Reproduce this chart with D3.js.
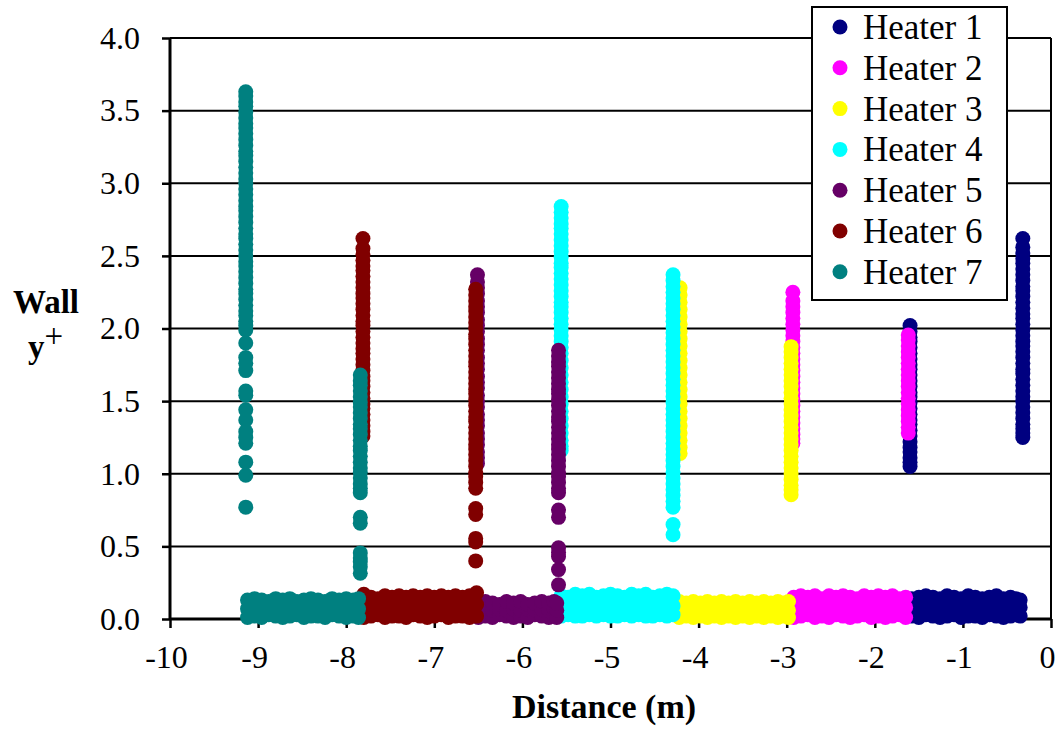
<!DOCTYPE html>
<html>
<head>
<meta charset="utf-8">
<script src="https://cdn.jsdelivr.net/npm/d3@7"></script>
<style>
  html, body { margin: 0; padding: 0; background: #fff; }
  svg { display: block; }
  text { font-family: "Liberation Serif", "Times New Roman", serif; fill: #000; }
</style>
</head>
<body>
<svg id="chart" width="1062" height="734"></svg>
<script>
// ---------------- DATA ----------------
const heaterNames = ["Heater 1", "Heater 2", "Heater 3", "Heater 4", "Heater 5", "Heater 6", "Heater 7"];
const xTicks = [-10, -9, -8, -7, -6, -5, -4, -3, -2, -1, 0];
const yTicks = [0, 0.5, 1.0, 1.5, 2.0, 2.5, 3.0, 3.5, 4.0];

// Heater 1
const h1LeftX = -1.60;
const h1LeftY = [2.02, 1.98, 1.94, 1.91, 1.87, 1.83, 1.79, 1.75, 1.72, 1.68, 1.64, 1.60, 1.56, 1.53, 1.49, 1.45, 1.41, 1.37, 1.34, 1.30, 1.26, 1.22, 1.18, 1.15, 1.11, 1.08, 1.05];
const h1RightX = -0.32;
const h1RightY = [2.62, 2.56, 2.52, 2.48, 2.45, 2.41, 2.37, 2.33, 2.29, 2.26, 2.22, 2.18, 2.14, 2.10, 2.07, 2.03, 1.99, 1.95, 1.91, 1.88, 1.84, 1.80, 1.76, 1.72, 1.69, 1.65, 1.61, 1.57, 1.53, 1.50, 1.46, 1.42, 1.38, 1.34, 1.31, 1.28, 1.25];
const h1BandX = [-1.58, -1.50, -1.42, -1.34, -1.26, -1.18, -1.10, -1.02, -0.94, -0.86, -0.78, -0.70, -0.62, -0.54, -0.46, -0.40, -0.35];
const h1BandLo = [0.02, 0.01, 0.03, 0.02, 0.01, 0.02, 0.03, 0.01, 0.02, 0.02, 0.01, 0.03, 0.02, 0.01, 0.02, 0.03, 0.02];
const h1BandMid = [0.08, 0.09, 0.07, 0.08, 0.09, 0.08, 0.07, 0.09, 0.08, 0.08, 0.09, 0.07, 0.08, 0.09, 0.08, 0.07, 0.08];
const h1BandHi = [0.14, 0.15, 0.16, 0.15, 0.14, 0.16, 0.15, 0.14, 0.16, 0.15, 0.14, 0.15, 0.16, 0.14, 0.15, 0.14, 0.13];

// Heater 2
const h2LeftX = -2.93;
const h2LeftY = [2.25, 2.19, 2.15, 2.11, 2.07, 2.03, 1.99, 1.95, 1.91, 1.87, 1.83, 1.79, 1.75, 1.71, 1.67, 1.63, 1.59, 1.55, 1.51, 1.47, 1.43, 1.39, 1.35, 1.31, 1.27, 1.24, 1.21];
const h2RightX = -1.62;
const h2RightY = [1.955, 1.92, 1.88, 1.84, 1.80, 1.76, 1.72, 1.68, 1.64, 1.60, 1.56, 1.52, 1.48, 1.44, 1.40, 1.36, 1.32, 1.28];
const h2BandX = [-2.92, -2.84, -2.76, -2.68, -2.60, -2.52, -2.44, -2.36, -2.28, -2.20, -2.12, -2.04, -1.96, -1.88, -1.80, -1.72, -1.65];
const h2BandLo = [0.01, 0.02, 0.03, 0.01, 0.02, 0.01, 0.03, 0.02, 0.01, 0.02, 0.03, 0.01, 0.02, 0.01, 0.02, 0.03, 0.01];
const h2BandMid = [0.08, 0.09, 0.08, 0.08, 0.09, 0.08, 0.07, 0.08, 0.09, 0.08, 0.08, 0.09, 0.08, 0.07, 0.08, 0.09, 0.08];
const h2BandHi = [0.15, 0.16, 0.15, 0.16, 0.14, 0.16, 0.15, 0.16, 0.15, 0.14, 0.16, 0.15, 0.16, 0.15, 0.16, 0.14, 0.15];

// Heater 3
const h3LeftX = -4.21;
const h3LeftY = [2.28, 2.23, 2.18, 2.13, 2.08, 2.03, 1.98, 1.93, 1.88, 1.83, 1.78, 1.73, 1.68, 1.63, 1.58, 1.53, 1.48, 1.43, 1.38, 1.33, 1.28, 1.23, 1.18, 1.14];
const h3RightX = -2.95;
const h3RightY = [1.875, 1.84, 1.80, 1.76, 1.72, 1.68, 1.64, 1.60, 1.56, 1.52, 1.48, 1.44, 1.40, 1.36, 1.32, 1.28, 1.24, 1.20, 1.16, 1.12, 1.08, 1.04, 1.00, 0.96, 0.92, 0.89, 0.855];
const h3BandX = [-4.22, -4.14, -4.06, -3.98, -3.90, -3.82, -3.74, -3.66, -3.58, -3.50, -3.42, -3.34, -3.26, -3.18, -3.10, -3.04, -2.98];
const h3BandLo = [0.01, 0.02, 0.01, 0.02, 0.01, 0.02, 0.01, 0.02, 0.01, 0.02, 0.01, 0.02, 0.01, 0.02, 0.01, 0.02, 0.01];
const h3BandMid = [0.06, 0.07, 0.06, 0.07, 0.06, 0.07, 0.06, 0.07, 0.06, 0.07, 0.06, 0.07, 0.06, 0.07, 0.06, 0.07, 0.06];
const h3BandHi = [0.12, 0.11, 0.12, 0.11, 0.12, 0.11, 0.12, 0.11, 0.12, 0.11, 0.12, 0.11, 0.12, 0.11, 0.12, 0.11, 0.12];

// Heater 4
const h4LeftX = -5.56;
const h4LeftY = [2.84, 2.80, 2.76, 2.72, 2.69, 2.65, 2.61, 2.57, 2.53, 2.49, 2.45, 2.42, 2.38, 2.34, 2.30, 2.26, 2.22, 2.18, 2.15, 2.11, 2.07, 2.03, 1.99, 1.95, 1.91, 1.87, 1.83, 1.78, 1.73, 1.68, 1.63, 1.58, 1.53, 1.48, 1.43, 1.38, 1.33, 1.28, 1.23, 1.19, 1.16];
const h4RightX = -4.29;
const h4RightY = [2.37, 2.33, 2.29, 2.25, 2.21, 2.17, 2.13, 2.09, 2.05, 2.01, 1.97, 1.93, 1.89, 1.85, 1.81, 1.77, 1.73, 1.69, 1.65, 1.61, 1.57, 1.53, 1.49, 1.45, 1.41, 1.37, 1.33, 1.29, 1.25, 1.21, 1.17, 1.13, 1.09, 1.05, 1.01, 0.97, 0.93, 0.89, 0.85, 0.81, 0.77, 0.65, 0.58];
const h4BandX = [-5.56, -5.48, -5.40, -5.32, -5.24, -5.16, -5.08, -5.00, -4.92, -4.84, -4.76, -4.68, -4.60, -4.52, -4.44, -4.36, -4.29];
const h4BandLo = [0.02, 0.03, 0.02, 0.02, 0.03, 0.02, 0.03, 0.02, 0.02, 0.03, 0.02, 0.03, 0.02, 0.02, 0.03, 0.02, 0.03];
const h4BandMid = [0.09, 0.09, 0.10, 0.09, 0.09, 0.10, 0.09, 0.09, 0.10, 0.09, 0.09, 0.10, 0.09, 0.09, 0.10, 0.09, 0.09];
const h4BandHi = [0.16, 0.15, 0.17, 0.16, 0.17, 0.15, 0.16, 0.17, 0.16, 0.15, 0.17, 0.16, 0.17, 0.15, 0.16, 0.17, 0.16];

// Heater 5
const h5LeftX = -6.51;
const h5LeftY = [2.37, 2.32, 2.28, 2.24, 2.19, 2.15, 2.11, 2.06, 2.02, 1.98, 1.93, 1.89, 1.85, 1.80, 1.76, 1.72, 1.67, 1.63, 1.59, 1.54, 1.50, 1.46, 1.41, 1.37, 1.33, 1.28, 1.24, 1.20, 1.15, 1.11, 1.07];
const h5RightX = -5.59;
const h5RightY = [1.85, 1.81, 1.77, 1.74, 1.70, 1.66, 1.62, 1.58, 1.55, 1.51, 1.47, 1.43, 1.39, 1.36, 1.32, 1.28, 1.24, 1.20, 1.17, 1.13, 1.09, 1.05, 1.01, 0.98, 0.94, 0.90, 0.87, 0.75, 0.70, 0.49, 0.46, 0.43, 0.34, 0.235];
const h5BandX = [-6.50, -6.42, -6.34, -6.26, -6.18, -6.10, -6.02, -5.94, -5.86, -5.78, -5.70, -5.64, -5.61];
const h5BandLo = [0.01, 0.02, 0.01, 0.03, 0.02, 0.01, 0.02, 0.01, 0.03, 0.02, 0.01, 0.02, 0.01];
const h5BandMid = [0.06, 0.07, 0.06, 0.07, 0.06, 0.07, 0.06, 0.07, 0.06, 0.07, 0.06, 0.07, 0.06];
const h5BandHi = [0.11, 0.12, 0.11, 0.10, 0.12, 0.11, 0.12, 0.10, 0.11, 0.12, 0.11, 0.12, 0.11];

// Heater 6
const h6LeftX = -7.81;
const h6LeftY = [2.62, 2.55, 2.51, 2.47, 2.43, 2.40, 2.36, 2.32, 2.28, 2.24, 2.21, 2.17, 2.13, 2.09, 2.05, 2.02, 1.98, 1.94, 1.90, 1.86, 1.83, 1.79, 1.75, 1.71, 1.67, 1.64, 1.60, 1.56, 1.52, 1.48, 1.45, 1.41, 1.37, 1.33, 1.29, 1.26];
const h6RightX = -6.53;
const h6RightY = [2.27, 2.23, 2.19, 2.15, 2.12, 2.08, 2.04, 2.00, 1.96, 1.93, 1.89, 1.85, 1.81, 1.77, 1.74, 1.70, 1.66, 1.62, 1.58, 1.55, 1.51, 1.47, 1.43, 1.39, 1.36, 1.32, 1.28, 1.24, 1.20, 1.17, 1.13, 1.09, 1.05, 1.01, 0.98, 0.94, 0.90, 0.76, 0.72, 0.555, 0.53, 0.40];
const h6BandX = [-7.80, -7.72, -7.64, -7.56, -7.48, -7.40, -7.32, -7.24, -7.16, -7.08, -7.00, -6.92, -6.84, -6.76, -6.68, -6.60, -6.52];
const h6BandLo = [0.01, 0.02, 0.03, 0.01, 0.02, 0.02, 0.01, 0.03, 0.02, 0.01, 0.02, 0.03, 0.01, 0.02, 0.02, 0.01, 0.02];
const h6BandMid = [0.09, 0.08, 0.09, 0.10, 0.08, 0.09, 0.09, 0.08, 0.10, 0.09, 0.08, 0.09, 0.10, 0.09, 0.08, 0.09, 0.10];
const h6BandHi = [0.17, 0.15, 0.14, 0.16, 0.15, 0.16, 0.15, 0.16, 0.15, 0.16, 0.15, 0.16, 0.15, 0.16, 0.15, 0.16, 0.18];

// Heater 7
const h7LeftX = -9.14;
const h7LeftY = [3.63, 3.60, 3.56, 3.53, 3.49, 3.45, 3.41, 3.38, 3.34, 3.30, 3.26, 3.22, 3.19, 3.15, 3.11, 3.07, 3.03, 3.00, 2.96, 2.92, 2.88, 2.84, 2.81, 2.77, 2.73, 2.69, 2.65, 2.62, 2.58, 2.54, 2.50, 2.46, 2.43, 2.39, 2.35, 2.31, 2.27, 2.24, 2.20, 2.16, 2.12, 2.09, 2.05, 2.02, 1.99, 1.90, 1.80, 1.76, 1.71, 1.57, 1.54, 1.44, 1.37, 1.29, 1.25, 1.21, 1.08, 0.99, 0.77];
const h7RightX = -7.84;
const h7RightY = [1.68, 1.64, 1.61, 1.57, 1.53, 1.49, 1.46, 1.42, 1.38, 1.34, 1.31, 1.27, 1.23, 1.19, 1.16, 1.12, 1.08, 1.04, 1.01, 0.97, 0.93, 0.90, 0.87, 0.70, 0.66, 0.455, 0.42, 0.395, 0.36, 0.315];
const h7BandX = [-9.12, -9.04, -8.96, -8.88, -8.80, -8.72, -8.64, -8.56, -8.48, -8.40, -8.32, -8.24, -8.16, -8.08, -8.00, -7.92, -7.86];
const h7BandLo = [0.01, 0.02, 0.01, 0.03, 0.02, 0.01, 0.02, 0.03, 0.01, 0.02, 0.02, 0.01, 0.03, 0.02, 0.01, 0.02, 0.01];
const h7BandMid = [0.07, 0.08, 0.06, 0.07, 0.08, 0.07, 0.06, 0.08, 0.07, 0.07, 0.08, 0.06, 0.07, 0.08, 0.07, 0.06, 0.07];
const h7BandHi = [0.13, 0.14, 0.13, 0.12, 0.14, 0.13, 0.14, 0.12, 0.13, 0.14, 0.13, 0.12, 0.14, 0.13, 0.14, 0.13, 0.14];

// ---------------- STYLE ----------------
const heaterColors = ["#000080", "#FF00FF", "#FFFF00", "#00FFFF", "#660066", "#800000", "#008080"];

// ---------------- BUILD ----------------
function buildSeries(leftX, leftY, rightX, rightY, bandX, lo, mid, hi) {
  const pts = [];
  leftY.forEach(v => pts.push([leftX, v]));
  bandX.forEach((x, i) => { pts.push([x, lo[i]]); pts.push([x, mid[i]]); pts.push([x, hi[i]]); });
  rightY.forEach(v => pts.push([rightX, v]));
  return pts;
}
const series = [
  buildSeries(h1LeftX, h1LeftY, h1RightX, h1RightY, h1BandX, h1BandLo, h1BandMid, h1BandHi),
  buildSeries(h2LeftX, h2LeftY, h2RightX, h2RightY, h2BandX, h2BandLo, h2BandMid, h2BandHi),
  buildSeries(h3LeftX, h3LeftY, h3RightX, h3RightY, h3BandX, h3BandLo, h3BandMid, h3BandHi),
  buildSeries(h4LeftX, h4LeftY, h4RightX, h4RightY, h4BandX, h4BandLo, h4BandMid, h4BandHi),
  buildSeries(h5LeftX, h5LeftY, h5RightX, h5RightY, h5BandX, h5BandLo, h5BandMid, h5BandHi),
  buildSeries(h6LeftX, h6LeftY, h6RightX, h6RightY, h6BandX, h6BandLo, h6BandMid, h6BandHi),
  buildSeries(h7LeftX, h7LeftY, h7RightX, h7RightY, h7BandX, h7BandLo, h7BandMid, h7BandHi)
];

const svg = d3.select("#chart");
const L = 170, R = 1051, T = 38, B = 619;
const x = d3.scaleLinear().domain([-10, 0]).range([L, R]);
const y = d3.scaleLinear().domain([0, 4]).range([B, T]);

// gridlines
svg.append("g").selectAll("line").data(yTicks.filter(d => d > 0)).join("line")
  .attr("x1", L).attr("x2", R)
  .attr("y1", d => y(d)).attr("y2", d => y(d))
  .attr("stroke", "#000").attr("stroke-width", 2);
// right border
svg.append("line").attr("x1", R).attr("x2", R).attr("y1", T).attr("y2", B)
  .attr("stroke", "#000").attr("stroke-width", 2);

// axes
const yAxis = svg.append("g").attr("transform", `translate(${L},0)`)
  .call(d3.axisLeft(y).tickValues(yTicks).tickFormat(d3.format(".1f")).tickSize(8).tickPadding(22));
const xAxis = svg.append("g").attr("transform", `translate(0,${B})`)
  .call(d3.axisBottom(x).tickValues(xTicks).tickFormat(d3.format("d")).tickSize(9).tickPadding(17));
[yAxis, xAxis].forEach(g => {
  g.attr("font-family", null);
  g.select(".domain").attr("stroke", "#000").attr("stroke-width", 3);
  g.selectAll(".tick line").attr("stroke", "#000").attr("stroke-width", 2.5);
  g.selectAll(".tick text").attr("font-size", 32).attr("fill", "#000");
});
xAxis.select(".domain").attr("d", `M${L},0H${R}`);
yAxis.select(".domain").attr("d", `M0,${T}V${B}`);
xAxis.selectAll(".tick text").attr("dx", -4).text(d => d === 0 ? "0" : String(d).replace("\u2212", "-"));

// points (heater 1 first, heater 7 on top)
series.forEach((pts, i) => {
  svg.append("g").selectAll("circle").data(pts).join("circle")
    .attr("cx", d => x(d[0])).attr("cy", d => y(d[1])).attr("r", 7.5)
    .attr("fill", heaterColors[i]);
});

// axis titles
svg.append("text").attr("x", 604).attr("y", 718).attr("text-anchor", "middle")
  .attr("font-size", 34).attr("font-weight", "bold").text("Distance (m)");
const yt = svg.append("text").attr("font-size", 33).attr("font-weight", "bold");
yt.append("tspan").attr("x", 13).attr("y", 313).text("Wall");
yt.append("tspan").attr("x", 28).attr("y", 358).text("y");
yt.append("tspan").attr("dy", -11).attr("font-weight", "normal").text("+");

// legend
const lg = svg.append("g");
lg.append("rect").attr("x", 812).attr("y", 7).attr("width", 195).attr("height", 293)
  .attr("fill", "#fff").attr("stroke", "#000").attr("stroke-width", 2);
heaterNames.forEach((n, i) => {
  const cy = 27 + i * 40.8;
  lg.append("circle").attr("cx", 840).attr("cy", cy).attr("r", 7.5).attr("fill", heaterColors[i]);
  lg.append("text").attr("x", 863).attr("y", cy + 12).attr("font-size", 35).text(n);
});
</script>
</body>
</html>
